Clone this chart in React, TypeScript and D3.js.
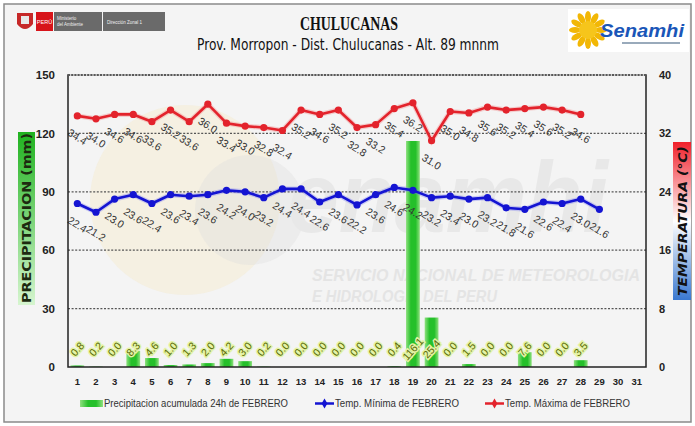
import React, { useEffect, useRef } from "react";
import * as d3 from "d3";

// Datos de febrero - estación Chulucanas
const days = d3.range(1, 32).map(String);
const precip = [0.8, 0.2, 0.0, 8.3, 4.6, 1.0, 1.3, 2.0, 4.2, 3.0, 0.2, 0.0, 0.0, 0.0, 0.0, 0.0, 0.0, 0.4, 116.1, 25.4, 0.0, 1.5, 0.0, 0.0, 7.6, 0.0, 0.0, 3.5];
const tMax = [34.4, 34.0, 34.6, 34.6, 33.6, 35.2, 33.6, 36.0, 33.4, 33.0, 32.8, 32.4, 35.2, 34.6, 35.2, 32.8, 33.2, 35.4, 36.2, 31.0, 35.0, 34.8, 35.6, 35.2, 35.4, 35.6, 35.2, 34.6];
const tMin = [22.4, 21.2, 23.0, 23.6, 22.4, 23.6, 23.4, 23.6, 24.2, 24.0, 23.2, 24.4, 24.4, 22.6, 23.6, 22.2, 23.6, 24.6, 24.2, 23.2, 23.4, 23.0, 23.2, 21.8, 21.6, 22.6, 22.4, 23.0, 21.6];
const precipTicks = [0, 30, 60, 90, 120, 150];
const tempTicks = [0, 8, 16, 24, 32, 40];
const legendLabels = ["Precipitacion acumulada 24h de FEBRERO", "Temp. Mínima de FEBRERO", "Temp. Máxima de FEBRERO"];

const FONT = "'Liberation Sans', Arial, sans-serif";

export default function App() {
  const svgRef = useRef<SVGSVGElement>(null);

  useEffect(() => {
    const width = 695;
    const height = 426;
    const m = { top: 75, right: 49, bottom: 59, left: 68 };
    const x0 = m.left, x1 = width - m.right, y0 = height - m.bottom, y1 = m.top;

    const svg = d3.select(svgRef.current!);
    svg.selectAll("*").remove();
    svg.attr("width", width).attr("height", height);

    const defs = svg.append("defs");
    const barGrad = defs.append("linearGradient").attr("id", "barGrad").attr("x1", "0").attr("x2", "1").attr("y1", "0").attr("y2", "0");
    barGrad.append("stop").attr("offset", "0").attr("stop-color", "#8fe07f");
    barGrad.append("stop").attr("offset", "0.35").attr("stop-color", "#25c02a");
    barGrad.append("stop").attr("offset", "0.7").attr("stop-color", "#25c02a");
    barGrad.append("stop").attr("offset", "1").attr("stop-color", "#8fe07f");
    const pGrad = defs.append("linearGradient").attr("id", "pGrad").attr("x1", "0").attr("x2", "0").attr("y1", "0").attr("y2", "1");
    pGrad.append("stop").attr("offset", "0").attr("stop-color", "#1fb21f");
    pGrad.append("stop").attr("offset", "1").attr("stop-color", "#d6f5cf");
    const tGrad = defs.append("linearGradient").attr("id", "tGrad").attr("x1", "0").attr("x2", "0").attr("y1", "0").attr("y2", "1");
    tGrad.append("stop").attr("offset", "0").attr("stop-color", "#f0202a");
    tGrad.append("stop").attr("offset", "0.5").attr("stop-color", "#ffffff");
    tGrad.append("stop").attr("offset", "1").attr("stop-color", "#3a78d0");

    // fondo y marco
    svg.append("rect").attr("x", 0).attr("y", 0).attr("width", width).attr("height", height).attr("fill", "#ffffff");
    svg.append("rect").attr("x", 4).attr("y", 4).attr("width", width - 8).attr("height", height - 8)
      .attr("fill", "#f4f4f4").attr("stroke", "#8a8a8a").attr("stroke-width", 1.5);

    // cabecera: logo gobierno
    const hdr = svg.append("g");
    hdr.append("path").attr("d", "M17,13 L33,13 L33,24 Q25,34 17,24 Z").attr("fill", "#c62828");
    hdr.append("rect").attr("x", 21).attr("y", 16).attr("width", 8).attr("height", 8).attr("fill", "#e8e8e8");
    hdr.append("rect").attr("x", 36).attr("y", 12).attr("width", 17).attr("height", 19).attr("fill", "#d7141a");
    hdr.append("text").attr("x", 44.5).attr("y", 24).attr("text-anchor", "middle").attr("font-size", 5.5).attr("fill", "#fff").attr("font-family", FONT).text("PERÚ");
    hdr.append("rect").attr("x", 54).attr("y", 12).attr("width", 48).attr("height", 19).attr("fill", "#6a6a6a");
    hdr.append("text").attr("x", 57).attr("y", 20).attr("font-size", 4.5).attr("fill", "#eee").attr("font-family", FONT).text("Ministerio");
    hdr.append("text").attr("x", 57).attr("y", 26).attr("font-size", 4.5).attr("fill", "#eee").attr("font-family", FONT).text("del Ambiente");
    hdr.append("rect").attr("x", 103).attr("y", 12).attr("width", 62).attr("height", 19).attr("fill", "#6a6a6a");
    hdr.append("text").attr("x", 107).attr("y", 24).attr("font-size", 4.5).attr("fill", "#eee").attr("font-family", FONT).text("Dirección Zonal 1");

    // logo senamhi
    hdr.append("rect").attr("x", 568).attr("y", 9).attr("width", 121).attr("height", 43).attr("fill", "#ffffff");
    const sun = hdr.append("g").attr("transform", "translate(588,30)");
    d3.range(12).forEach(i => {
      sun.append("ellipse").attr("cx", 0).attr("cy", -13).attr("rx", 3).attr("ry", 6)
        .attr("fill", "#f2b705").attr("transform", `rotate(${i * 30})`);
    });
    sun.append("circle").attr("r", 9).attr("fill", "#f6c51b");
    hdr.append("text").attr("x", 600).attr("y", 37).attr("font-size", 19).attr("font-weight", "bold").attr("font-style", "italic")
      .attr("fill", "#1a56b8").attr("font-family", FONT).attr("textLength", 84).attr("lengthAdjust", "spacingAndGlyphs").text("Senamhi");
    hdr.append("rect").attr("x", 622).attr("y", 42).attr("width", 58).attr("height", 2).attr("fill", "#9ab");

    // títulos
    svg.append("text").attr("x", 349).attr("y", 30).attr("text-anchor", "middle").attr("font-size", 18).attr("font-weight", "bold")
      .attr("font-family", "'Liberation Serif', serif").attr("fill", "#111").attr("textLength", 98).attr("lengthAdjust", "spacingAndGlyphs").text("CHULUCANAS");
    svg.append("text").attr("x", 348).attr("y", 50).attr("text-anchor", "middle").attr("font-size", 15)
      .attr("font-family", "'DejaVu Sans Condensed', sans-serif").attr("fill", "#111").attr("textLength", 302).attr("lengthAdjust", "spacingAndGlyphs").text("Prov. Morropon - Dist. Chulucanas - Alt. 89 mnnm");

    // marca de agua
    const wm = svg.append("g").attr("pointer-events", "none");
    wm.append("circle").attr("cx", 185).attr("cy", 200).attr("r", 95).attr("fill", "#f6ecd0").attr("opacity", 0.5);
    wm.append("circle").attr("cx", 250).attr("cy", 210).attr("r", 55).attr("fill", "#dcdcdc").attr("opacity", 0.35);
    wm.append("text").attr("x", 288).attr("y", 232).attr("font-size", 100).attr("font-weight", "bold").attr("font-style", "italic")
      .attr("fill", "#e8e8e8").attr("font-family", FONT).attr("textLength", 320).attr("lengthAdjust", "spacingAndGlyphs").text("enamhi");
    wm.append("text").attr("x", 312).attr("y", 281).attr("font-size", 17).attr("font-weight", "bold").attr("font-style", "italic")
      .attr("fill", "#e4e4e4").attr("font-family", FONT).attr("textLength", 328).attr("lengthAdjust", "spacingAndGlyphs").text("SERVICIO NACIONAL DE METEOROLOGIA");
    wm.append("text").attr("x", 312).attr("y", 302).attr("font-size", 17).attr("font-weight", "bold").attr("font-style", "italic")
      .attr("fill", "#e4e4e4").attr("font-family", FONT).attr("textLength", 185).attr("lengthAdjust", "spacingAndGlyphs").text("E HIDROLOGIA DEL PERU");

    // escalas
    const x = d3.scaleBand().domain(days).range([x0, x1]).padding(0);
    const xc = (i: number) => (x(days[i]) as number) + x.bandwidth() / 2;
    const yP = d3.scaleLinear().domain([0, 150]).range([y0, y1]);
    const yT = d3.scaleLinear().domain([0, 40]).range([y0, y1]);

    // rejilla
    svg.append("g").selectAll("line").data(precipTicks.filter(d => d > 0 && d < 150)).join("line")
      .attr("x1", x0).attr("x2", x1).attr("y1", d => yP(d)).attr("y2", d => yP(d))
      .attr("stroke", "#555").attr("stroke-width", 1.2).attr("stroke-dasharray", "2,1.6");

    // barras
    const bw = x.bandwidth() * 0.74;
    svg.append("g").selectAll("rect").data(precip).join("rect")
      .attr("x", (d, i) => xc(i) - bw / 2).attr("y", d => yP(d)).attr("width", bw)
      .attr("height", d => y0 - yP(d)).attr("fill", "url(#barGrad)");

    // líneas de temperatura
    const line = d3.line<number>().x((d, i) => xc(i)).y(d => yT(d));
    const drawSeries = (vals: number[], color: string, glow: string) => {
      const g = svg.append("g");
      g.append("path").datum(vals).attr("d", line).attr("fill", "none").attr("stroke", glow).attr("stroke-width", 5).attr("opacity", 0.35);
      g.append("path").datum(vals).attr("d", line).attr("fill", "none").attr("stroke", color).attr("stroke-width", 2.6).attr("stroke-linejoin", "round");
      g.selectAll("circle").data(vals).join("circle").attr("cx", (d, i) => xc(i)).attr("cy", d => yT(d)).attr("r", 3.6).attr("fill", color);
      g.selectAll("text").data(vals).join("text")
        .attr("transform", (d, i) => `translate(${xc(i)},${yT(d) + 21}) rotate(32)`)
        .attr("text-anchor", "middle").attr("dy", "0.35em").attr("font-size", 10.5).attr("font-family", FONT).attr("fill", "#333")
        .text(d => d.toFixed(1));
    };
    drawSeries(tMax, "#e3232c", "#f08080");
    drawSeries(tMin, "#1414d2", "#7a7af0");

    // etiquetas de precipitación
    svg.append("g").selectAll("text").data(precip).join("text")
      .attr("transform", (d, i) => `translate(${xc(i)},${y0 - 18}) rotate(-48)`)
      .attr("text-anchor", "middle").attr("dy", "0.35em").attr("font-size", 10.5).attr("font-family", FONT)
      .attr("fill", "#5a6a05").attr("stroke", "#e4f3a6").attr("stroke-width", 3).attr("paint-order", "stroke")
      .text(d => d.toFixed(1));

    // marco del área
    svg.append("rect").attr("x", x0).attr("y", y1).attr("width", x1 - x0).attr("height", y0 - y1)
      .attr("fill", "none").attr("stroke", "#222").attr("stroke-width", 1.5);
    svg.append("line").attr("x1", x0).attr("x2", x1).attr("y1", y1).attr("y2", y1)
      .attr("stroke", "#f4f4f4").attr("stroke-width", 1.6);
    svg.append("line").attr("x1", x0).attr("x2", x1).attr("y1", y1).attr("y2", y1)
      .attr("stroke", "#333").attr("stroke-width", 1.4).attr("stroke-dasharray", "2,1.2");

    // ejes
    const styleAxis = (g: d3.Selection<SVGGElement, unknown, null, undefined>) => {
      g.select(".domain").remove();
      g.selectAll("line").remove();
      g.selectAll("text").attr("font-family", FONT).attr("font-weight", "bold").attr("fill", "#222");
    };
    svg.append("g").attr("transform", `translate(${x0 - 13},0)`)
      .call(d3.axisLeft(yP).tickValues(precipTicks).tickSize(0).tickPadding(0))
      .attr("font-size", 11.5).call(styleAxis);
    svg.append("g").attr("transform", `translate(${x1 + 13},0)`)
      .call(d3.axisRight(yT).tickValues(tempTicks).tickSize(0).tickPadding(0))
      .attr("font-size", 11).call(styleAxis);
    svg.append("g").attr("transform", `translate(0,${y0 + 11})`)
      .call(d3.axisBottom(x).tickSize(0).tickPadding(0))
      .attr("font-size", 9.5).call(styleAxis);

    // títulos de ejes
    svg.append("rect").attr("x", 18).attr("y", 132).attr("width", 17).attr("height", 173).attr("fill", "url(#pGrad)");
    svg.append("text").attr("transform", "translate(31,218) rotate(-90)").attr("text-anchor", "middle")
      .attr("font-size", 12).attr("font-weight", "bold").attr("font-family", "'DejaVu Sans Condensed', sans-serif").attr("fill", "#1d2a10")
      .attr("textLength", 170).attr("lengthAdjust", "spacingAndGlyphs").text("PRECIPITACION (mm)");
    svg.append("rect").attr("x", 673).attr("y", 142).attr("width", 18).attr("height", 158).attr("fill", "url(#tGrad)");
    svg.append("text").attr("transform", "translate(686.5,221) rotate(-90)").attr("text-anchor", "middle")
      .attr("font-size", 11.5).attr("font-weight", "bold").attr("font-style", "italic").attr("font-family", "'DejaVu Sans Condensed', sans-serif").attr("fill", "#111")
      .attr("textLength", 150).attr("lengthAdjust", "spacingAndGlyphs").text("TEMPERATURA (°C)");

    // leyenda
    const lg = svg.append("g").attr("font-family", FONT).attr("font-size", 10).attr("fill", "#333");
    lg.append("rect").attr("x", 80).attr("y", 400).attr("width", 23).attr("height", 7).attr("fill", "url(#barGrad)");
    lg.append("text").attr("x", 104).attr("y", 407).attr("textLength", 184).attr("lengthAdjust", "spacingAndGlyphs").text(legendLabels[0]);
    const legLine = (lx: number, color: string, label: string, tl: number) => {
      lg.append("line").attr("x1", lx).attr("x2", lx + 19).attr("y1", 403.5).attr("y2", 403.5).attr("stroke", color).attr("stroke-width", 2.5);
      lg.append("path").attr("d", d3.symbol(d3.symbolDiamond, 28)()).attr("transform", `translate(${lx + 9.5},403.5)`).attr("fill", color);
      lg.append("text").attr("x", lx + 20).attr("y", 407).attr("textLength", tl).attr("lengthAdjust", "spacingAndGlyphs").text(label);
    };
    legLine(315, "#1414d2", legendLabels[1], 124);
    legLine(485, "#e3232c", legendLabels[2], 125);
  }, []);

  return <svg ref={svgRef} style={{ position: "absolute", left: 0, top: 0, display: "block" }}></svg>;
}
